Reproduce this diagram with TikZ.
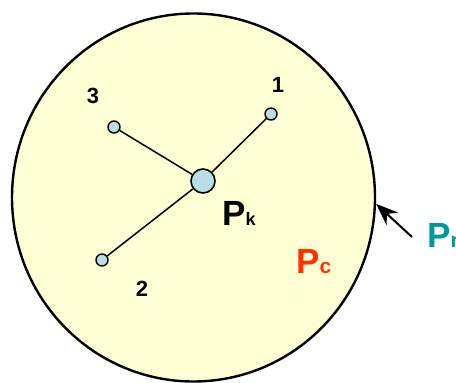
\documentclass[tikz,border=0pt]{standalone}
\usepackage{fontspec}
\setmainfont{Liberation Sans}
\usepackage{xcolor}
\usetikzlibrary{arrows.meta,shapes.geometric}

\definecolor{cellfill}{RGB}{255,255,214}
\definecolor{dotfill}{RGB}{186,222,228}
\definecolor{pcred}{RGB}{255,51,0}
\definecolor{prteal}{RGB}{0,153,153}

\tikzset{
  nbr/.style={draw, circle, fill=dotfill, line width=1.4pt, minimum size=12pt, inner sep=0pt},
  idx/.style={font=\fontsize{22}{22}\selectfont\bfseries, inner sep=0pt},
  plabel/.style={font=\fontsize{35}{35}\selectfont\bfseries, inner sep=0pt, anchor=base west}
}

\begin{document}
\begin{tikzpicture}[x=1pt,y=-1pt]
\useasboundingbox (0,0) rectangle (456,383);

% Cell boundary
\node[draw, ellipse, fill=cellfill, line width=2.4pt, minimum width=363pt, minimum height=368pt, inner sep=0pt] (pc) at (193.5,197.5) {};

% Particle and neighbours
\node[nbr] (n1) at (271,114) {};
\node[nbr] (n2) at (102,260) {};
\node[nbr] (n3) at (114,127) {};
\node[draw, circle, fill=dotfill, line width=1.6pt, minimum size=24pt, inner sep=0pt] (pk) at (203,181) {};

\draw[line width=1.5pt] (n1) -- (pk);
\draw[line width=1.5pt] (n2) -- (pk);
\draw[line width=1.5pt] (n3) -- (pk);

\node[idx] (l1) at (278,85) {1};
\node[idx] (l2) at (142,289) {2};
\node[idx] (l3) at (93,96) {3};

% Labels
\node[plabel] (pklabel) at (222,225) {P{\fontsize{18}{18}\selectfont k}};
\node[plabel, text=pcred] (pclabel) at (296,273) {P{\fontsize{21}{21}\selectfont c}};
\node[plabel, text=prteal] (prlabel) at (427,247) {P{\fontsize{21}{21}\selectfont r}};

% Arrow to boundary
\coordinate (prtail) at (412,237);
\draw[line width=2pt, -{Stealth[length=22pt,width=17pt]}] (prtail) -- (pc.-2);
\end{tikzpicture}
\end{document}
